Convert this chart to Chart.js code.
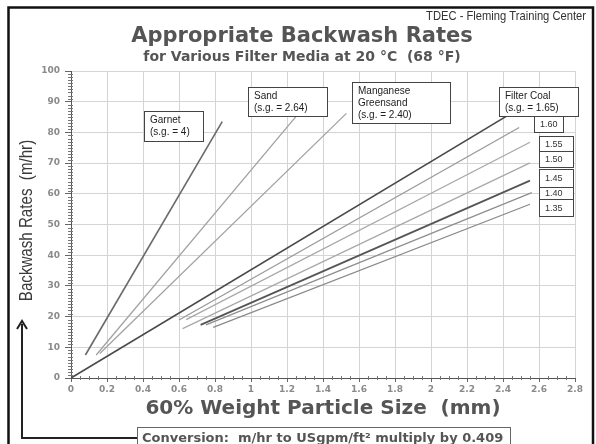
<!DOCTYPE html>
<html>
<head>
<meta charset="utf-8">
<script src="https://cdn.jsdelivr.net/npm/chart.js@4.4.1/dist/chart.umd.min.js"></script>
<style>
    html, body { margin: 0; padding: 0; background: #fff; }
    canvas { display: block; }
</style>
</head>
<body>
<canvas id="backwashChart" width="596" height="444"></canvas>
<script>
    // Media lines: particle size (mm) -> backwash rate (m/hr)
    var media = ['Garnet', 'Sand', 'Manganese Greensand', 'Filter Coal 1.65', 'Filter Coal 1.60',
                 'Filter Coal 1.55', 'Filter Coal 1.50', 'Filter Coal 1.45', 'Filter Coal 1.40', 'Filter Coal 1.35'];
    var startSize = [0.08, 0.14, 0.16, 0, 0.60, 0.64, 0.62, 0.72, 0.75, 0.79];
    var startRate = [7.5, 7.5, 8.0, 0, 18.9, 19.0, 16.1, 17.3, 17.3, 16.5];
    var endSize = [0.84, 1.29, 1.53, 2.42, 2.49, 2.55, 2.55, 2.55, 2.56, 2.55];
    var endRate = [83.5, 88.0, 86.2, 85.3, 81.6, 76.8, 70.1, 64.3, 60.4, 56.6];

    // Axis ticks
    var sizeTicks = [0, 0.2, 0.4, 0.6, 0.8, 1, 1.2, 1.4, 1.6, 1.8, 2, 2.2, 2.4, 2.6, 2.8];
    var rateTicks = [0, 10, 20, 30, 40, 50, 60, 70, 80, 90, 100];

    // Label boxes text
    var mediaLabels = [['Garnet', '(s.g. = 4)'], ['Sand', '(s.g. = 2.64)'],
                       ['Manganese', 'Greensand', '(s.g. = 2.40)'], ['Filter Coal', '(s.g. = 1.65)']];
    var gradeLabels = ['1.60', '1.55', '1.50', '1.45', '1.40', '1.35'];

    // styling / layout (not data)
    var lineColors = ['#6a6a6a', '#a2a2a2', '#a2a2a2', '#4a4a4a', '#999999',
                      '#a8a8a8', '#a8a8a8', '#555555', '#8e8e8e', '#8a8a8a'];
    var lineWidths = [1.6, 1.3, 1.3, 1.7, 1.3, 1.3, 1.3, 1.7, 1.3, 1.3];
    var mediaBoxes = [[144, 111, 59, 30], [248, 87, 79, 29], [352, 82, 98, 41], [499, 87, 79, 29]];
    var gradeBoxes = [[534, 116, 29, 16], [539, 136, 34, 15], [539, 151, 34, 16],
                      [539, 169, 34, 18], [539, 187, 34, 12], [539, 199, 34, 17]];

    var datasets = media.map(function (name, i) {
        return {
            label: name,
            data: [{ x: startSize[i], y: startRate[i] }, { x: endSize[i], y: endRate[i] }],
            showLine: true,
            borderColor: lineColors[i],
            borderWidth: lineWidths[i],
            pointRadius: 0,
            tension: 0
        };
    });

    var sansBold = "'DejaVu Sans', Verdana, sans-serif";
    var narrow = "'Liberation Sans', Arial, sans-serif";
    var arial = "'Liberation Sans', Arial, sans-serif";

    var decorations = {
        id: 'decorations',
        afterDraw: function (chart) {
            var ctx = chart.ctx;
            var xs = chart.scales.x, ys = chart.scales.y;
            var area = chart.chartArea;
            ctx.save();

            // minor ticks
            ctx.strokeStyle = '#777';
            ctx.lineWidth = 1;
            ctx.beginPath();
            for (var r = 1; r < 100; r++) {
                if (r % 10 === 0) continue;
                var py = Math.round(ys.getPixelForValue(r)) + 0.5;
                ctx.moveTo(area.left - 3, py);
                ctx.lineTo(area.left + 2, py);
            }
            for (var k = 1; k < 56; k++) {
                if (k % 4 === 0) continue;
                var px = Math.round(xs.getPixelForValue(k * 0.05)) + 0.5;
                ctx.moveTo(px, area.bottom - 2);
                ctx.lineTo(px, area.bottom + 2);
            }
            ctx.stroke();

            // outer frame
            ctx.strokeStyle = '#111';
            ctx.lineWidth = 2.5;
            ctx.strokeRect(8.5, 7.5, 584.5, 470);

            // titles
            ctx.fillStyle = '#555';
            ctx.textAlign = 'center';
            ctx.textBaseline = 'alphabetic';
            ctx.font = 'bold 21px ' + sansBold;
            ctx.fillText('Appropriate Backwash Rates', 302, 42);
            ctx.font = 'bold 14px ' + sansBold;
            ctx.fillText('for Various Filter Media at 20 \u00B0C  (68 \u00B0F)', 302, 61);
            ctx.font = 'bold 20px ' + sansBold;
            ctx.fillText('60% Weight Particle Size  (mm)', (area.left + area.right) / 2, 414);

            // source note, condensed
            ctx.save();
            ctx.translate(586, 20);
            ctx.scale(0.86, 1);
            ctx.fillStyle = '#333';
            ctx.textAlign = 'right';
            ctx.font = '13px ' + narrow;
            ctx.fillText('TDEC - Fleming Training Center', 0, 0);
            ctx.restore();

            // y axis title, condensed
            ctx.save();
            ctx.translate(27, (area.top + area.bottom) / 2 - 4);
            ctx.rotate(-Math.PI / 2);
            ctx.scale(0.84, 1);
            ctx.textAlign = 'center';
            ctx.textBaseline = 'middle';
            ctx.fillStyle = '#3a3a3a';
            ctx.font = '18px ' + narrow;
            ctx.fillText('Backwash Rates  (m/hr)', 0, 0);
            ctx.restore();

            // arrow bracket to conversion note
            ctx.strokeStyle = '#222';
            ctx.lineWidth = 2;
            ctx.beginPath();
            ctx.moveTo(22, 324);
            ctx.lineTo(22, 438);
            ctx.lineTo(137, 438);
            ctx.stroke();
            ctx.beginPath();
            ctx.moveTo(17, 329);
            ctx.lineTo(22, 321);
            ctx.lineTo(27, 329);
            ctx.stroke();

            // conversion box
            ctx.strokeStyle = '#666';
            ctx.lineWidth = 1;
            ctx.fillStyle = '#fff';
            ctx.fillRect(137, 427, 373, 20);
            ctx.strokeRect(137.5, 427.5, 373, 20);
            ctx.fillStyle = '#555';
            ctx.textAlign = 'left';
            ctx.font = 'bold 13px ' + sansBold;
            ctx.fillText('Conversion:  m/hr to USgpm/ft\u00B2 multiply by 0.409', 142, 442);

            // media label boxes
            ctx.strokeStyle = '#444';
            ctx.textBaseline = 'middle';
            mediaBoxes.forEach(function (b, i) {
                ctx.fillStyle = '#fff';
                ctx.fillRect(b[0], b[1], b[2], b[3]);
                ctx.strokeRect(b[0] + 0.5, b[1] + 0.5, b[2], b[3]);
                ctx.fillStyle = '#222';
                ctx.font = '10px ' + arial;
                mediaLabels[i].forEach(function (t, j) {
                    ctx.fillText(t, b[0] + 6, b[1] + 9 + j * 12.3);
                });
            });
            gradeBoxes.forEach(function (b, i) {
                ctx.fillStyle = '#fff';
                ctx.fillRect(b[0], b[1], b[2], b[3]);
                ctx.strokeRect(b[0] + 0.5, b[1] + 0.5, b[2], b[3]);
                ctx.fillStyle = '#333';
                ctx.font = '9px ' + arial;
                ctx.fillText(gradeLabels[i], b[0] + 6, b[1] + b[3] / 2 + 1);
            });

            ctx.restore();
        }
    };

    var ctx = document.getElementById('backwashChart').getContext('2d');

    var backwashChart = new Chart(ctx, {
        type: 'scatter',
        data: { datasets: datasets },
        options: {
            responsive: false,
            animation: false,
            devicePixelRatio: 1,
            layout: { padding: { left: 0, right: 21, top: 71, bottom: 0 } },
            plugins: {
                legend: { display: false },
                tooltip: { enabled: false },
                title: { display: false }
            },
            scales: {
                x: {
                    type: 'linear',
                    min: 0,
                    max: 2.8,
                    afterBuildTicks: function (scale) {
                        scale.ticks = sizeTicks.map(function (v) { return { value: v }; });
                    },
                    afterFit: function (scale) { scale.height = 66; },
                    ticks: {
                        autoSkip: false,
                        maxRotation: 0,
                        padding: 2,
                        color: '#8a8a8a',
                        font: { family: sansBold, size: 9, weight: 'bold' },
                        callback: function (v) { return String(Math.round(v * 10) / 10); }
                    },
                    grid: { color: '#d4d4d4', tickColor: '#666', tickLength: 4 },
                    border: { display: true, color: '#555', width: 1 }
                },
                y: {
                    type: 'linear',
                    min: 0,
                    max: 100,
                    afterBuildTicks: function (scale) {
                        scale.ticks = rateTicks.map(function (v) { return { value: v }; });
                    },
                    afterFit: function (scale) { scale.width = 71; },
                    ticks: {
                        padding: 5,
                        color: '#8a8a8a',
                        font: { family: sansBold, size: 9, weight: 'bold' }
                    },
                    grid: { color: '#d4d4d4', tickColor: '#666', tickLength: 6 },
                    border: { display: true, color: '#555', width: 1 }
                }
            }
        },
        plugins: [decorations]
    });
</script>
</body>
</html>
